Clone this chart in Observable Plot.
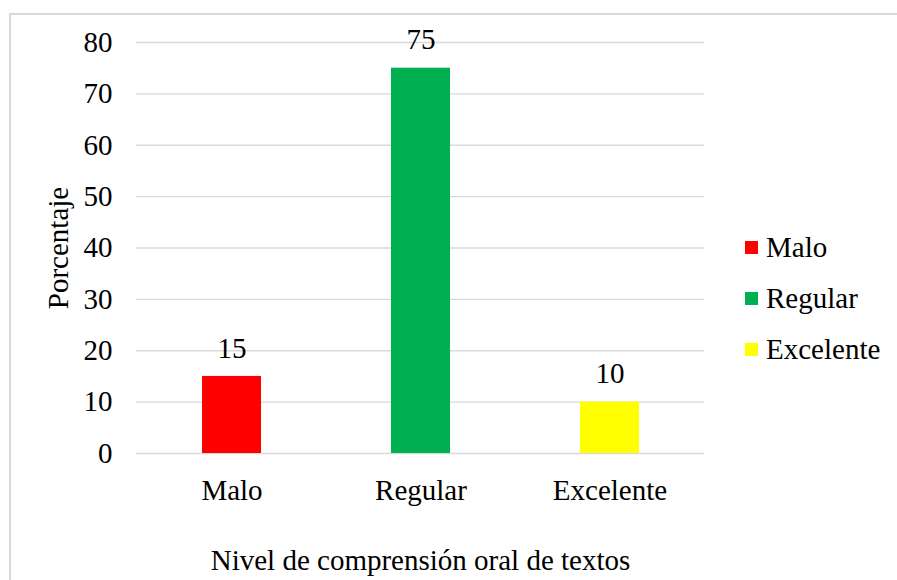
<!DOCTYPE html>
<html>
<head>
<meta charset="utf-8">
<script src="https://cdn.jsdelivr.net/npm/d3@7"></script>
<script src="https://cdn.jsdelivr.net/npm/@observablehq/plot@0.6"></script>
<style>
  html, body { margin: 0; padding: 0; background: #fff; overflow: hidden; }
  #wrap { position: relative; width: 897px; height: 580px; overflow: hidden; font-family: "Times New Roman", Times, "Liberation Serif", "DejaVu Serif", "Noto Serif", FreeSerif, serif; }
  #border { position: absolute; left: 9px; top: 13px; width: 940px; height: 640px; border: 2px solid #d9d9d9; box-sizing: border-box; }
  #chart { position: absolute; left: 0; top: 0; }
  #legend { position: absolute; left: 745px; top: 0; }
  .item { position: absolute; left: 0; display: flex; align-items: center; white-space: nowrap; font-size: 29px; color: #000; line-height: 1; }
  .sw { width: 13px; height: 13px; margin-right: 8px; flex: none; }
</style>
</head>
<body>
<div id="wrap">
  <div id="border"></div>
  <div id="chart"></div>
  <div id="legend"></div>
</div>
<script>
const categories = ["Malo", "Regular", "Excelente"];
const values = [15, 75, 10];
const colors = ["#ff0000", "#00b050", "#ffff00"];
const yTicks = [0, 10, 20, 30, 40, 50, 60, 70, 80];
const xTitle = "Nivel de comprensión oral de textos";
const yTitle = "Porcentaje";

const data = categories.map((c, i) => ({category: c, value: values[i]}));
const font = "'Times New Roman', Times, 'Liberation Serif', 'DejaVu Serif', 'Noto Serif', FreeSerif, serif";

const chart = Plot.plot({
  width: 897,
  height: 580,
  marginLeft: 136,
  marginRight: 193,
  marginTop: 42,
  marginBottom: 127,
  style: {fontFamily: font, fontSize: "29px", color: "#000", background: "transparent"},
  x: {domain: categories, paddingInner: 0.69, paddingOuter: 0.345, label: null},
  y: {domain: [0, 80], label: null},
  color: {domain: categories, range: colors},
  marks: [
    Plot.gridY(yTicks, {stroke: "#d9d9d9", strokeOpacity: 1, strokeWidth: 1.4}),
    Plot.axisY(yTicks, {tickSize: 0, tickPadding: 24, label: null, fontSize: 29, fontFamily: font, tickFormat: d => String(d)}),
    Plot.axisX({tickSize: 0, tickPadding: 26, label: null, fontSize: 29, fontFamily: font}),
    Plot.barY(data, {x: "category", y: "value", fill: "category"}),
    Plot.text(data, {x: "category", y: "value", text: d => String(d.value), dy: -28, lineAnchor: "middle", fontSize: 29, fontFamily: font, fill: "#000"}),
    Plot.text([xTitle], {frameAnchor: "bottom", dy: 107, lineAnchor: "middle", fontSize: 29, fontFamily: font, fill: "#000"}),
    Plot.text([yTitle], {frameAnchor: "left", dx: -78, rotate: -90, lineAnchor: "middle", textAnchor: "middle", fontSize: 29, fontFamily: font, fill: "#000"})
  ]
});
document.getElementById("chart").appendChild(chart);

const legend = document.getElementById("legend");
const legendTop = 247, legendStep = 51;
categories.forEach((c, i) => {
  const item = document.createElement("div");
  item.className = "item";
  item.style.top = (legendTop + i * legendStep - 15) + "px";
  item.style.height = "30px";
  const sw = document.createElement("span");
  sw.className = "sw";
  sw.style.background = colors[i];
  const tx = document.createElement("span");
  tx.textContent = c;
  item.appendChild(sw);
  item.appendChild(tx);
  legend.appendChild(item);
});
</script>
</body>
</html>
